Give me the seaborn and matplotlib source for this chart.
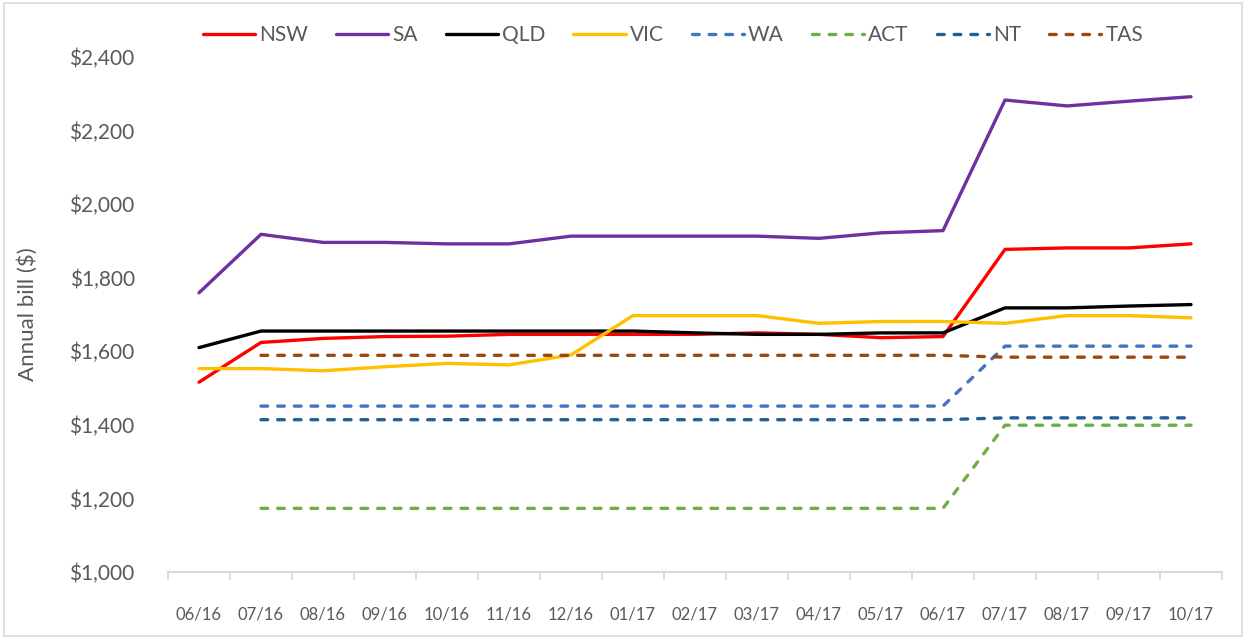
import numpy as np
import pandas as pd
import matplotlib
matplotlib.use("Agg")
import matplotlib.pyplot as plt
from matplotlib.patches import Rectangle
from matplotlib.ticker import FuncFormatter, FixedLocator
import seaborn as sns

nan = np.nan

months = ["06/16", "07/16", "08/16", "09/16", "10/16", "11/16", "12/16", "01/17", "02/17",
          "03/17", "04/17", "05/17", "06/17", "07/17", "08/17", "09/17", "10/17"]

nsw = [1516, 1624, 1635, 1640, 1641, 1646, 1646, 1646, 1646, 1650, 1646, 1637, 1640, 1877, 1881, 1881, 1892]
sa = [1759, 1918, 1896, 1896, 1892, 1892, 1913, 1913, 1913, 1913, 1907, 1922, 1928, 2283, 2267, 2280, 2292]
qld = [1610, 1655, 1655, 1655, 1655, 1655, 1655, 1655, 1650, 1646, 1646, 1650, 1650, 1718, 1718, 1723, 1727]
vic = [1553, 1553, 1547, 1558, 1567, 1563, 1590, 1697, 1697, 1697, 1676, 1681, 1681, 1676, 1697, 1697, 1691]
wa = [nan] + [1451] * 12 + [1614] * 4
act = [nan] + [1173] * 12 + [1399] * 4
nt = [nan] + [1414] * 12 + [1419] * 4
tas = [nan] + [1589] * 12 + [1584] * 4

states = ["NSW", "SA", "QLD", "VIC", "WA", "ACT", "NT", "TAS"]
series = [nsw, sa, qld, vic, wa, act, nt, tas]
colors = ["#FF0000", "#7030A0", "#000000", "#FFC000", "#4472C4", "#70AD47", "#255E91", "#9E480E"]
dashed = {"WA", "ACT", "NT", "TAS"}

# long format table for seaborn
rows = []
for st, vals in zip(states, series):
    for i, (m, v) in enumerate(zip(months, vals)):
        rows.append({"pos": i, "month": m, "state": st, "bill": v})
df = pd.DataFrame(rows).dropna()

sns.set_theme(style="white")
plt.rcParams["font.family"] = ["Lato", "DejaVu Sans"]
plt.rcParams["lines.dash_capstyle"] = "round"
plt.rcParams["lines.solid_capstyle"] = "round"

fig = plt.figure(figsize=(12.46, 6.39), dpi=100)
ax = fig.add_axes([168 / 1246, 1 - 572 / 639, (1222 - 168) / 1246, (572 - 57) / 639])

dashes = {s: ((2, 3) if s in dashed else "") for s in states}
sns.lineplot(data=df, x="pos", y="bill", hue="state", style="state",
             hue_order=states, style_order=states, palette=dict(zip(states, colors)),
             dashes=dashes, linewidth=2.4, ax=ax, sort=False)

text_col = "#595959"
ax.set_xlim(-0.5, len(months) - 0.5)
ax.set_ylim(1000, 2400)
ax.set_yticks(np.arange(1000, 2401, 200))
ax.yaxis.set_major_formatter(FuncFormatter(lambda v, p: f"${v:,.0f}"))
ax.set_xticks(range(len(months)))
ax.set_xticklabels(months)
ax.xaxis.set_minor_locator(FixedLocator(np.arange(-0.5, len(months), 1.0)))
ax.tick_params(axis="x", which="major", length=0, pad=25, labelsize=12, colors=text_col)
ax.tick_params(axis="x", which="minor", length=6, width=1.3, color="#D9D9D9", bottom=True)
ax.tick_params(axis="y", length=0, pad=24, labelsize=15, colors=text_col)

for side in ["top", "right", "left"]:
    ax.spines[side].set_visible(False)
ax.spines["bottom"].set_color("#D9D9D9")
ax.spines["bottom"].set_linewidth(1.5)

ax.set_xlabel("")
ax.set_ylabel("Annual bill ($)", fontsize=16, color=text_col)
ax.yaxis.set_label_coords(-0.123, 0.5)

sns.move_legend(ax, "upper center", bbox_to_anchor=(0.54, 0.99), bbox_transform=fig.transFigure,
                ncol=8, frameon=False, title=None, fontsize=15, handlelength=2.5,
                handletextpad=0.2, columnspacing=1.35)
for t in ax.get_legend().get_texts():
    t.set_color(text_col)

fig.patches.append(Rectangle((0.003, 0.005), 0.994, 0.99, transform=fig.transFigure,
                             fill=False, edgecolor="#D9D9D9", linewidth=1.2))

fig.savefig("out.png", dpi=100, facecolor="white")
